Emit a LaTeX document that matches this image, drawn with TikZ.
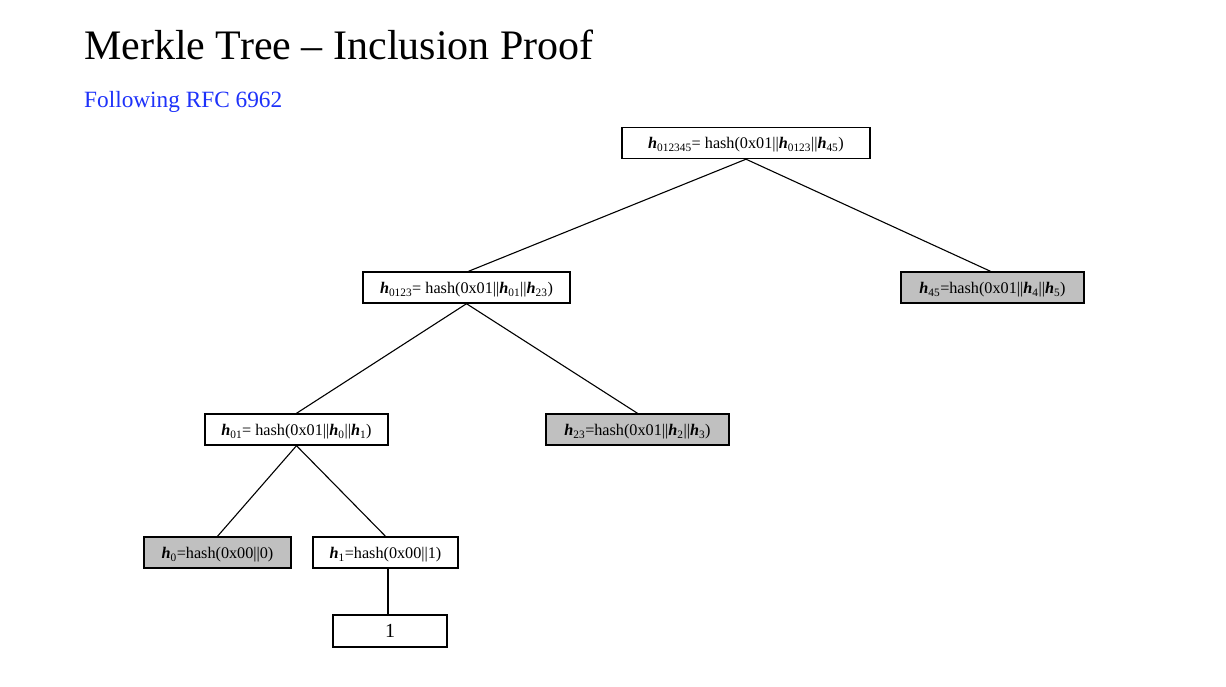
\documentclass[tikz,border=0pt]{standalone}
\usepackage{fontspec}
\setmainfont{Liberation Serif}
\definecolor{rfcblue}{RGB}{30,50,250}
\definecolor{proofgray}{RGB}{192,192,192}
\tikzset{
  hbox/.style={draw=black, line width=1.4pt, fill=white, inner sep=0pt, minimum height=31pt, text height=15pt, text depth=3pt, font=\fontsize{16.2}{19}\selectfont},
  grayb/.style={hbox, fill=proofgray},
  link/.style={draw=black, line width=1.1pt}
}
\newcommand{\hh}[1]{\textbf{\textit{h}}\textsubscript{#1}}
\begin{document}
\begin{tikzpicture}[x=1pt,y=-1pt]
\useasboundingbox[fill=white] (0,0) rectangle (1226,687);
\node[anchor=base west, inner sep=0pt, font=\fontsize{42}{48}\selectfont] (title) at (84,60) {Merkle Tree – Inclusion Proof};
\node[anchor=base west, inner sep=0pt, font=\fontsize{23.3}{27}\selectfont, text=rfcblue] (sub) at (84,108) {Following RFC 6962};

\node[hbox, minimum width=248pt] (root) at (746,143) {\hh{012345}= hash(0x01||\hh{0123}||\hh{45})};
\node[hbox, minimum width=207pt] (n0123) at (466.5,287.5) {\hh{0123}= hash(0x01||\hh{01}||\hh{23})};
\node[grayb, minimum width=183pt] (n45) at (992.5,287.5) {\hh{45}=hash(0x01||\hh{4}||\hh{5})};
\node[hbox, minimum width=183pt] (n01) at (296.5,429.5) {\hh{01}= hash(0x01||\hh{0}||\hh{1})};
\node[grayb, minimum width=183pt] (n23) at (637.5,429.5) {\hh{23}=hash(0x01||\hh{2}||\hh{3})};
\node[grayb, minimum width=147pt] (n0) at (217.5,552.5) {\hh{0}=hash(0x00||0)};
\node[hbox, minimum width=145pt] (n1) at (385.5,552.5) {\hh{1}=hash(0x00||1)};
\node[hbox, minimum width=114pt, minimum height=32pt, font=\fontsize{20}{24}\selectfont] (leaf) at (390,631) {1};

\coordinate (t1) at ([xshift=2.5pt]n1.south);
\coordinate (t2) at (leaf.north -| t1);

\draw[link] (root.south) -- ([xshift=2pt]n0123.north);
\draw[link] (root.south) -- ([xshift=-2pt]n45.north);
\draw[link] (n0123.south) -- (n01.north);
\draw[link] (n0123.south) -- (n23.north);
\draw[link] (n01.south) -- (n0.north);
\draw[link] (n01.south) -- (n1.north);
\draw[link] (t1) -- (t2);
\end{tikzpicture}
\end{document}
